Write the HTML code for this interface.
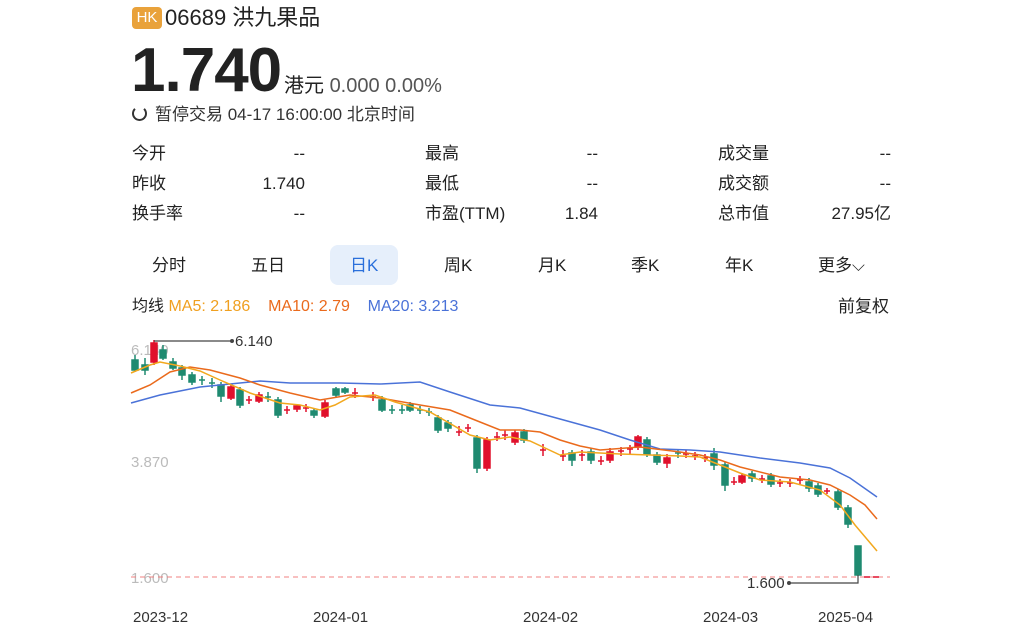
<!DOCTYPE html>
<html><head><meta charset="utf-8"><style>
body{margin:0;width:1024px;height:630px;background:#fff;font-family:"Liberation Sans","Noto Sans CJK SC",sans-serif;color:#222;position:relative;overflow:hidden}
.a{position:absolute;white-space:nowrap}
</style></head><body>
<div class="a" style="left:132px;top:7px;width:30px;height:22px;background:#e9a23b;border-radius:4px;color:#fff;font-size:15px;line-height:22px;text-align:center">HK</div>
<div class="a" style="left:165px;top:4px;font-size:22px;line-height:28px;color:#222">06689 洪九果品</div>
<div class="a" style="left:131px;top:38px;font-size:62px;font-weight:bold;line-height:66px;color:#222;letter-spacing:-1px">1.740</div>
<div class="a" style="left:284px;top:73px;font-size:20px;line-height:26px;color:#222">港元 <span style="color:#555">0.000 0.00%</span></div>
<div class="a" style="left:132px;top:104px;font-size:17px;line-height:22px;color:#333"><span style="display:inline-block;width:11px;height:11px;border:2px solid #333;border-radius:50%;border-top-color:transparent;vertical-align:-1px;margin-right:8px"></span>暂停交易 04-17 16:00:00 北京时间</div>

<div class="a" style="left:132px;top:143px;font-size:17px;line-height:22px">今开</div>
<div class="a" style="left:132px;top:173px;font-size:17px;line-height:22px">昨收</div>
<div class="a" style="left:132px;top:203px;font-size:17px;line-height:22px">换手率</div>
<div class="a" style="right:719px;top:143px;font-size:17px;line-height:22px">--</div>
<div class="a" style="right:719px;top:173px;font-size:17px;line-height:22px">1.740</div>
<div class="a" style="right:719px;top:203px;font-size:17px;line-height:22px">--</div>
<div class="a" style="left:425px;top:143px;font-size:17px;line-height:22px">最高</div>
<div class="a" style="left:425px;top:173px;font-size:17px;line-height:22px">最低</div>
<div class="a" style="left:425px;top:203px;font-size:17px;line-height:22px">市盈(TTM)</div>
<div class="a" style="right:426px;top:143px;font-size:17px;line-height:22px">--</div>
<div class="a" style="right:426px;top:173px;font-size:17px;line-height:22px">--</div>
<div class="a" style="right:426px;top:203px;font-size:17px;line-height:22px">1.84</div>
<div class="a" style="left:718px;top:143px;font-size:17px;line-height:22px">成交量</div>
<div class="a" style="left:718px;top:173px;font-size:17px;line-height:22px">成交额</div>
<div class="a" style="left:718px;top:203px;font-size:17px;line-height:22px">总市值</div>
<div class="a" style="right:133px;top:143px;font-size:17px;line-height:22px">--</div>
<div class="a" style="right:133px;top:173px;font-size:17px;line-height:22px">--</div>
<div class="a" style="right:133px;top:203px;font-size:17px;line-height:22px">27.95亿</div>

<div class="a" style="left:330px;top:245px;width:68px;height:40px;background:#e6effb;border-radius:8px"></div>
<div class="a" style="left:152px;top:255px;font-size:17px;line-height:22px">分时</div>
<div class="a" style="left:251px;top:255px;font-size:17px;line-height:22px">五日</div>
<div class="a" style="left:350px;top:255px;font-size:17px;line-height:22px;color:#2a6fdb">日K</div>
<div class="a" style="left:444px;top:255px;font-size:17px;line-height:22px">周K</div>
<div class="a" style="left:538px;top:255px;font-size:17px;line-height:22px">月K</div>
<div class="a" style="left:631px;top:255px;font-size:17px;line-height:22px">季K</div>
<div class="a" style="left:725px;top:255px;font-size:17px;line-height:22px">年K</div>
<div class="a" style="left:818px;top:255px;font-size:17px;line-height:22px">更多⌵</div>

<div class="a" style="left:132px;top:296px;font-size:16px;line-height:22px">均线 <span style="color:#f0a020">MA5: 2.186</span>&nbsp;&nbsp;&nbsp; <span style="color:#ea6a1c">MA10: 2.79</span>&nbsp;&nbsp;&nbsp; <span style="color:#4a72d8">MA20: 3.213</span></div>
<div class="a" style="left:838px;top:296px;font-size:17px;line-height:22px">前复权</div>

<svg class="a" style="left:0;top:0" width="1024" height="630">
<g font-family="Liberation Sans,sans-serif" font-size="15" fill="#bbb">
<text x="131" y="355">6.140</text><text x="131" y="467">3.870</text><text x="131" y="583">1.600</text></g>
<line x1="131" y1="577" x2="890" y2="577" stroke="#f08080" stroke-dasharray="5,4" stroke-width="1"/>
<g stroke-width="1.5">
<g fill="#1f8a70" stroke="#1f8a70">
<line x1="135" y1="355" x2="135" y2="372"/><rect x="132" y="360" width="6" height="10"/>
<line x1="145" y1="358" x2="145" y2="375"/><rect x="142" y="365" width="6" height="5"/>
<line x1="163" y1="345" x2="163" y2="360"/><rect x="160" y="350" width="6" height="8"/>
<line x1="173" y1="358" x2="173" y2="370"/><rect x="170" y="362" width="6" height="6"/>
<line x1="182" y1="365" x2="182" y2="380"/><rect x="179" y="368" width="6" height="7"/>
<line x1="192" y1="372" x2="192" y2="385"/><rect x="189" y="375" width="6" height="7"/>
<line x1="202" y1="376" x2="202" y2="385"/><line x1="199" y1="380" x2="205" y2="380"/>
<line x1="212" y1="378" x2="212" y2="388"/><line x1="209" y1="383" x2="215" y2="383"/>
<line x1="221" y1="382" x2="221" y2="402"/><rect x="218" y="385" width="6" height="11"/>
<line x1="240" y1="387" x2="240" y2="408"/><rect x="237" y="390" width="6" height="15"/>
<line x1="268" y1="392" x2="268" y2="402"/><line x1="265" y1="397" x2="271" y2="397"/>
<line x1="278" y1="397" x2="278" y2="418"/><rect x="275" y="400" width="6" height="15"/>
<line x1="314" y1="408" x2="314" y2="418"/><rect x="311" y="411" width="6" height="4"/>
<line x1="336" y1="387" x2="336" y2="397"/><rect x="333" y="389" width="6" height="6"/>
<line x1="345" y1="387" x2="345" y2="394"/><rect x="342" y="389" width="6" height="3"/>
<line x1="382" y1="396" x2="382" y2="412"/><rect x="379" y="400" width="6" height="10"/>
<line x1="392" y1="405" x2="392" y2="414"/><line x1="389" y1="410" x2="395" y2="410"/>
<line x1="402" y1="405" x2="402" y2="414"/><line x1="399" y1="410" x2="405" y2="410"/>
<line x1="410" y1="402" x2="410" y2="412"/><rect x="407" y="405" width="6" height="5"/>
<line x1="420" y1="406" x2="420" y2="414"/><line x1="417" y1="410" x2="423" y2="410"/>
<line x1="429" y1="408" x2="429" y2="416"/><line x1="426" y1="412" x2="432" y2="412"/>
<line x1="438" y1="415" x2="438" y2="433"/><rect x="435" y="418" width="6" height="12"/>
<line x1="448" y1="420" x2="448" y2="432"/><rect x="445" y="423" width="6" height="5"/>
<line x1="477" y1="435" x2="477" y2="473"/><rect x="474" y="438" width="6" height="30"/>
<line x1="524" y1="429" x2="524" y2="443"/><rect x="521" y="432" width="6" height="8"/>
<line x1="572" y1="450" x2="572" y2="466"/><rect x="569" y="453" width="6" height="7"/>
<line x1="591" y1="448" x2="591" y2="464"/><rect x="588" y="452" width="6" height="8"/>
<line x1="647" y1="437" x2="647" y2="457"/><rect x="644" y="440" width="6" height="14"/>
<line x1="657" y1="452" x2="657" y2="465"/><rect x="654" y="455" width="6" height="7"/>
<line x1="678" y1="450" x2="678" y2="458"/><line x1="675" y1="453" x2="681" y2="453"/>
<line x1="714" y1="448" x2="714" y2="470"/><rect x="711" y="454" width="6" height="11"/>
<line x1="725" y1="462" x2="725" y2="491"/><rect x="722" y="465" width="6" height="20"/>
<line x1="752" y1="471" x2="752" y2="482"/><rect x="749" y="474" width="6" height="4"/>
<line x1="771" y1="473" x2="771" y2="487"/><rect x="768" y="476" width="6" height="8"/>
<line x1="809" y1="478" x2="809" y2="492"/><rect x="806" y="482" width="6" height="6"/>
<line x1="818" y1="483" x2="818" y2="497"/><rect x="815" y="486" width="6" height="8"/>
<line x1="838" y1="489" x2="838" y2="510"/><rect x="835" y="492" width="6" height="15"/>
<line x1="848" y1="505" x2="848" y2="528"/><rect x="845" y="508" width="6" height="16"/>
<rect x="855" y="546" width="6" height="29"/>
</g>
<g fill="#e0102c" stroke="#e0102c">
<line x1="154" y1="340" x2="154" y2="365"/><rect x="151" y="343" width="6" height="19"/>
<line x1="231" y1="385" x2="231" y2="400"/><rect x="228" y="387" width="6" height="11"/>
<line x1="249" y1="396" x2="249" y2="404"/><line x1="246" y1="400" x2="252" y2="400"/>
<line x1="259" y1="392" x2="259" y2="403"/><rect x="256" y="395" width="6" height="6"/>
<line x1="287" y1="406" x2="287" y2="414"/><line x1="284" y1="410" x2="290" y2="410"/>
<line x1="297" y1="404" x2="297" y2="412"/><rect x="294" y="406" width="6" height="3"/>
<line x1="306" y1="404" x2="306" y2="412"/><line x1="303" y1="408" x2="309" y2="408"/>
<line x1="325" y1="400" x2="325" y2="418"/><rect x="322" y="403" width="6" height="13"/>
<line x1="355" y1="388" x2="355" y2="398"/><line x1="352" y1="393" x2="358" y2="393"/>
<line x1="373" y1="392" x2="373" y2="401"/><line x1="370" y1="397" x2="376" y2="397"/>
<line x1="459" y1="426" x2="459" y2="436"/><line x1="456" y1="432" x2="462" y2="432"/>
<line x1="468" y1="424" x2="468" y2="432"/><line x1="465" y1="428" x2="471" y2="428"/>
<line x1="487" y1="437" x2="487" y2="471"/><rect x="484" y="440" width="6" height="28"/>
<line x1="497" y1="432" x2="497" y2="441"/><line x1="494" y1="437" x2="500" y2="437"/>
<line x1="505" y1="430" x2="505" y2="440"/><line x1="502" y1="435" x2="508" y2="435"/>
<line x1="515" y1="430" x2="515" y2="445"/><rect x="512" y="433" width="6" height="9"/>
<line x1="543" y1="444" x2="543" y2="456"/><line x1="540" y1="450" x2="546" y2="450"/>
<line x1="563" y1="450" x2="563" y2="461"/><line x1="560" y1="456" x2="566" y2="456"/>
<line x1="582" y1="450" x2="582" y2="461"/><line x1="579" y1="455" x2="585" y2="455"/>
<line x1="601" y1="456" x2="601" y2="465"/><line x1="598" y1="461" x2="604" y2="461"/>
<line x1="610" y1="448" x2="610" y2="463"/><rect x="607" y="452" width="6" height="8"/>
<line x1="621" y1="447" x2="621" y2="456"/><line x1="618" y1="451" x2="624" y2="451"/>
<line x1="630" y1="445" x2="630" y2="454"/><line x1="627" y1="449" x2="633" y2="449"/>
<line x1="638" y1="435" x2="638" y2="450"/><rect x="635" y="437" width="6" height="10"/>
<line x1="667" y1="454" x2="667" y2="468"/><rect x="664" y="458" width="6" height="5"/>
<line x1="686" y1="450" x2="686" y2="458"/><line x1="683" y1="454" x2="689" y2="454"/>
<line x1="695" y1="452" x2="695" y2="460"/><line x1="692" y1="456" x2="698" y2="456"/>
<line x1="705" y1="454" x2="705" y2="462"/><line x1="702" y1="458" x2="708" y2="458"/>
<line x1="734" y1="477" x2="734" y2="485"/><line x1="731" y1="482" x2="737" y2="482"/>
<line x1="742" y1="473" x2="742" y2="484"/><rect x="739" y="476" width="6" height="6"/>
<line x1="762" y1="475" x2="762" y2="483"/><line x1="759" y1="479" x2="765" y2="479"/>
<line x1="780" y1="479" x2="780" y2="487"/><line x1="777" y1="483" x2="783" y2="483"/>
<line x1="790" y1="479" x2="790" y2="487"/><line x1="787" y1="483" x2="793" y2="483"/>
<line x1="800" y1="476" x2="800" y2="484"/><line x1="797" y1="480" x2="803" y2="480"/>
<line x1="827" y1="488" x2="827" y2="494"/><line x1="824" y1="491" x2="830" y2="491"/>
<line x1="864" y1="577" x2="870" y2="577"/><line x1="873" y1="577" x2="879" y2="577"/>
</g></g>
<g fill="none" stroke-width="1.5">
<polyline stroke="#4a72d8" points="131,403 160,395 200,387 260,381 290,383 340,383 380,384 420,382 450,392 490,405 520,408 560,419 600,430 630,440 660,449 690,450 720,452 760,458 800,463 830,468 850,478 877,497"/>
<polyline stroke="#ea6a1c" points="131,393 150,385 170,372 190,367 210,370 240,378 260,385 290,393 320,400 350,395 380,398 420,405 450,410 480,422 500,430 520,430 540,432 560,440 580,446 600,450 640,447 680,452 700,455 720,460 740,467 780,477 810,480 830,485 850,495 865,505 877,519"/>
<polyline stroke="#f2a81e" points="131,373 150,365 160,362 180,366 200,371 220,380 250,393 280,403 300,405 320,410 335,405 350,397 375,395 395,402 430,412 470,435 490,440 510,437 530,441 560,455 580,452 620,454 650,455 680,456 700,457 720,465 740,473 760,480 790,482 820,490 840,505 855,525 877,551"/>
</g>
<polyline fill="none" stroke="#444" stroke-width="1.2" points="154,341 154,341 232,341"/><circle cx="232" cy="341" r="2" fill="#444"/>
<text x="235" y="346" font-family="Liberation Sans,sans-serif" font-size="15" fill="#333">6.140</text>
<polyline fill="none" stroke="#444" stroke-width="1.2" points="858,575 858,583 789,583"/><circle cx="789" cy="583" r="2" fill="#444"/>
<text x="747" y="588" font-family="Liberation Sans,sans-serif" font-size="15" fill="#333">1.600</text>
<g font-family="Liberation Sans,sans-serif" font-size="15" fill="#333">
<text x="133" y="622">2023-12</text><text x="313" y="622">2024-01</text><text x="523" y="622">2024-02</text><text x="703" y="622">2024-03</text><text x="818" y="622">2025-04</text></g>
</svg>
</body></html>
